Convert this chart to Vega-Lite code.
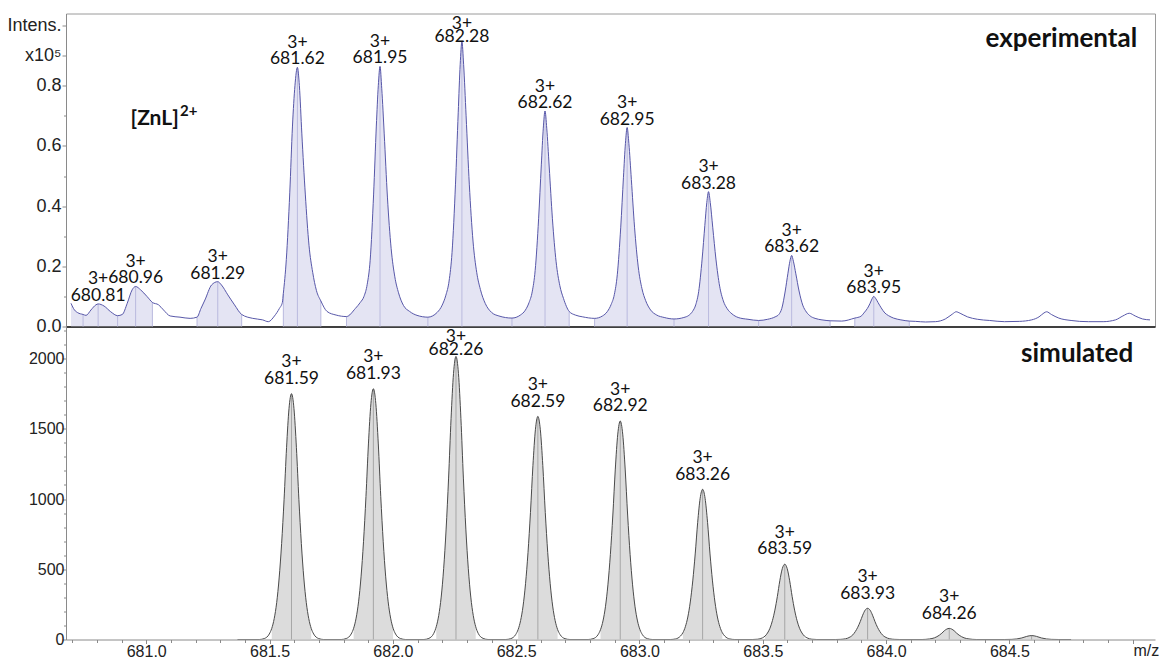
{
  "$schema": "https://vega.github.io/schema/vega-lite/v6.json",
  "background": "white",
  "padding": {"left": 6, "top": 12.5, "right": 0, "bottom": 0},
  "bounds": "flush",
  "spacing": 0,
  "config": {
    "view": {"stroke": null},
    "axis": {"labelFont": "Liberation Sans", "labelColor": "#222222", "domainColor": "#8a8a8a", "tickColor": "#8a8a8a", "grid": false, "titleFont": "Liberation Sans", "zindex": 1}
  },
  "datasets": {
    "exp": [
      {"m": 680.695, "v": 0.077, "r": "a"},
      {"m": 680.709, "v": 0.055, "r": "a"},
      {"m": 680.722, "v": 0.046, "r": "a"},
      {"m": 680.744, "v": 0.040, "r": "a", "t": 1},
      {"m": 680.744, "v": 0.040, "r": "b", "d": 1},
      {"m": 680.756, "v": 0.037, "r": "b"},
      {"m": 680.776, "v": 0.055, "r": "b"},
      {"m": 680.796, "v": 0.072, "r": "b"},
      {"m": 680.805, "v": 0.075, "r": "b", "t": 1},
      {"m": 680.829, "v": 0.068, "r": "b"},
      {"m": 680.856, "v": 0.049, "r": "b"},
      {"m": 680.884, "v": 0.036, "r": "b", "t": 1},
      {"m": 680.884, "v": 0.036, "r": "c", "d": 1},
      {"m": 680.903, "v": 0.040, "r": "c"},
      {"m": 680.923, "v": 0.077, "r": "c"},
      {"m": 680.943, "v": 0.122, "r": "c"},
      {"m": 680.957, "v": 0.133, "r": "c", "t": 1},
      {"m": 680.977, "v": 0.122, "r": "c"},
      {"m": 681.004, "v": 0.099, "r": "c"},
      {"m": 681.025, "v": 0.080, "r": "c", "t": 1},
      {"m": 681.050, "v": 0.072},
      {"m": 681.070, "v": 0.055},
      {"m": 681.097, "v": 0.035},
      {"m": 681.137, "v": 0.031},
      {"m": 681.178, "v": 0.027},
      {"m": 681.206, "v": 0.031, "r": "e", "t": 1},
      {"m": 681.222, "v": 0.060, "r": "e"},
      {"m": 681.238, "v": 0.088, "r": "e"},
      {"m": 681.265, "v": 0.138, "r": "e"},
      {"m": 681.290, "v": 0.149, "r": "e", "t": 1},
      {"m": 681.305, "v": 0.138, "r": "e"},
      {"m": 681.331, "v": 0.105, "r": "e"},
      {"m": 681.358, "v": 0.072, "r": "e"},
      {"m": 681.387, "v": 0.040, "r": "e", "t": 1},
      {"m": 681.432, "v": 0.027},
      {"m": 681.472, "v": 0.022},
      {"m": 681.495, "v": 0.016},
      {"m": 681.520, "v": 0.035},
      {"m": 681.540, "v": 0.060},
      {"m": 681.552, "v": 0.080},
      {"m": 681.556, "v": 0.110, "r": "f", "t": 1},
      {"m": 681.568, "v": 0.222, "r": "f"},
      {"m": 681.582, "v": 0.444, "r": "f"},
      {"m": 681.593, "v": 0.666, "r": "f"},
      {"m": 681.603, "v": 0.800, "r": "f"},
      {"m": 681.613, "v": 0.861, "r": "f", "t": 1},
      {"m": 681.621, "v": 0.800, "r": "f"},
      {"m": 681.631, "v": 0.640, "r": "f"},
      {"m": 681.645, "v": 0.440, "r": "f"},
      {"m": 681.660, "v": 0.270, "r": "f"},
      {"m": 681.675, "v": 0.180, "r": "f"},
      {"m": 681.690, "v": 0.120, "r": "f"},
      {"m": 681.708, "v": 0.085, "r": "f", "t": 1},
      {"m": 681.733, "v": 0.050},
      {"m": 681.770, "v": 0.038},
      {"m": 681.812, "v": 0.033, "r": "g", "t": 1},
      {"m": 681.848, "v": 0.060, "r": "g"},
      {"m": 681.868, "v": 0.080, "r": "g"},
      {"m": 681.883, "v": 0.100, "r": "g"},
      {"m": 681.896, "v": 0.140, "r": "g"},
      {"m": 681.908, "v": 0.220, "r": "g"},
      {"m": 681.922, "v": 0.440, "r": "g"},
      {"m": 681.933, "v": 0.666, "r": "g"},
      {"m": 681.941, "v": 0.800, "r": "g"},
      {"m": 681.948, "v": 0.864, "r": "g", "t": 1},
      {"m": 681.955, "v": 0.790, "r": "g"},
      {"m": 681.965, "v": 0.640, "r": "g"},
      {"m": 681.978, "v": 0.430, "r": "g"},
      {"m": 681.993, "v": 0.260, "r": "g"},
      {"m": 682.008, "v": 0.165, "r": "g"},
      {"m": 682.023, "v": 0.112, "r": "g"},
      {"m": 682.043, "v": 0.070, "r": "g"},
      {"m": 682.068, "v": 0.050, "r": "g"},
      {"m": 682.098, "v": 0.037, "r": "g"},
      {"m": 682.142, "v": 0.031, "r": "g", "t": 1},
      {"m": 682.142, "v": 0.031, "r": "h", "d": 1},
      {"m": 682.180, "v": 0.047, "r": "h"},
      {"m": 682.200, "v": 0.071, "r": "h"},
      {"m": 682.215, "v": 0.104, "r": "h"},
      {"m": 682.228, "v": 0.151, "r": "h"},
      {"m": 682.240, "v": 0.246, "r": "h"},
      {"m": 682.254, "v": 0.473, "r": "h"},
      {"m": 682.265, "v": 0.710, "r": "h"},
      {"m": 682.273, "v": 0.870, "r": "h"},
      {"m": 682.280, "v": 0.946, "r": "h", "t": 1},
      {"m": 682.287, "v": 0.870, "r": "h"},
      {"m": 682.297, "v": 0.700, "r": "h"},
      {"m": 682.310, "v": 0.473, "r": "h"},
      {"m": 682.325, "v": 0.284, "r": "h"},
      {"m": 682.340, "v": 0.180, "r": "h"},
      {"m": 682.355, "v": 0.123, "r": "h"},
      {"m": 682.375, "v": 0.076, "r": "h"},
      {"m": 682.400, "v": 0.047, "r": "h"},
      {"m": 682.430, "v": 0.035, "r": "h"},
      {"m": 682.483, "v": 0.028, "r": "h", "t": 1},
      {"m": 682.483, "v": 0.028, "r": "i", "d": 1},
      {"m": 682.517, "v": 0.038, "r": "i"},
      {"m": 682.537, "v": 0.054, "r": "i"},
      {"m": 682.552, "v": 0.079, "r": "i"},
      {"m": 682.565, "v": 0.115, "r": "i"},
      {"m": 682.577, "v": 0.186, "r": "i"},
      {"m": 682.591, "v": 0.358, "r": "i"},
      {"m": 682.602, "v": 0.537, "r": "i"},
      {"m": 682.610, "v": 0.659, "r": "i"},
      {"m": 682.617, "v": 0.716, "r": "i", "t": 1},
      {"m": 682.624, "v": 0.659, "r": "i"},
      {"m": 682.634, "v": 0.530, "r": "i"},
      {"m": 682.647, "v": 0.358, "r": "i"},
      {"m": 682.662, "v": 0.215, "r": "i"},
      {"m": 682.677, "v": 0.136, "r": "i"},
      {"m": 682.692, "v": 0.093, "r": "i"},
      {"m": 682.715, "v": 0.050, "r": "i", "t": 1},
      {"m": 682.740, "v": 0.038},
      {"m": 682.770, "v": 0.032},
      {"m": 682.818, "v": 0.027, "r": "j", "t": 1},
      {"m": 682.850, "v": 0.035, "r": "j"},
      {"m": 682.870, "v": 0.050, "r": "j"},
      {"m": 682.885, "v": 0.073, "r": "j"},
      {"m": 682.898, "v": 0.106, "r": "j"},
      {"m": 682.910, "v": 0.172, "r": "j"},
      {"m": 682.924, "v": 0.330, "r": "j"},
      {"m": 682.935, "v": 0.496, "r": "j"},
      {"m": 682.943, "v": 0.608, "r": "j"},
      {"m": 682.950, "v": 0.661, "r": "j", "t": 1},
      {"m": 682.957, "v": 0.608, "r": "j"},
      {"m": 682.967, "v": 0.489, "r": "j"},
      {"m": 682.980, "v": 0.330, "r": "j"},
      {"m": 682.995, "v": 0.198, "r": "j"},
      {"m": 683.010, "v": 0.126, "r": "j"},
      {"m": 683.025, "v": 0.086, "r": "j"},
      {"m": 683.045, "v": 0.055, "r": "j"},
      {"m": 683.070, "v": 0.038, "r": "j"},
      {"m": 683.100, "v": 0.030, "r": "j"},
      {"m": 683.140, "v": 0.025, "r": "j", "t": 1},
      {"m": 683.140, "v": 0.025, "r": "k", "d": 1},
      {"m": 683.180, "v": 0.030, "r": "k"},
      {"m": 683.200, "v": 0.037, "r": "k"},
      {"m": 683.215, "v": 0.050, "r": "k"},
      {"m": 683.228, "v": 0.072, "r": "k"},
      {"m": 683.240, "v": 0.116, "r": "k"},
      {"m": 683.254, "v": 0.224, "r": "k"},
      {"m": 683.265, "v": 0.336, "r": "k"},
      {"m": 683.273, "v": 0.412, "r": "k"},
      {"m": 683.280, "v": 0.448, "r": "k", "t": 1},
      {"m": 683.287, "v": 0.412, "r": "k"},
      {"m": 683.297, "v": 0.330, "r": "k"},
      {"m": 683.310, "v": 0.224, "r": "k"},
      {"m": 683.325, "v": 0.134, "r": "k"},
      {"m": 683.340, "v": 0.085, "r": "k"},
      {"m": 683.355, "v": 0.060, "r": "k"},
      {"m": 683.375, "v": 0.042, "r": "k"},
      {"m": 683.400, "v": 0.030, "r": "k"},
      {"m": 683.440, "v": 0.024, "r": "k"},
      {"m": 683.483, "v": 0.020, "r": "k", "t": 1},
      {"m": 683.483, "v": 0.020, "r": "l", "d": 1},
      {"m": 683.520, "v": 0.024, "r": "l"},
      {"m": 683.550, "v": 0.032, "r": "l"},
      {"m": 683.565, "v": 0.040, "r": "l"},
      {"m": 683.577, "v": 0.060, "r": "l"},
      {"m": 683.591, "v": 0.118, "r": "l"},
      {"m": 683.602, "v": 0.177, "r": "l"},
      {"m": 683.610, "v": 0.217, "r": "l"},
      {"m": 683.617, "v": 0.236, "r": "l", "t": 1},
      {"m": 683.624, "v": 0.217, "r": "l"},
      {"m": 683.634, "v": 0.175, "r": "l"},
      {"m": 683.647, "v": 0.118, "r": "l"},
      {"m": 683.662, "v": 0.071, "r": "l"},
      {"m": 683.677, "v": 0.048, "r": "l"},
      {"m": 683.692, "v": 0.035, "r": "l"},
      {"m": 683.712, "v": 0.027, "r": "l"},
      {"m": 683.740, "v": 0.022, "r": "l"},
      {"m": 683.773, "v": 0.019, "r": "l", "t": 1},
      {"m": 683.820, "v": 0.018},
      {"m": 683.873, "v": 0.028, "r": "n", "t": 1},
      {"m": 683.898, "v": 0.034, "r": "n"},
      {"m": 683.910, "v": 0.045, "r": "n"},
      {"m": 683.924, "v": 0.060, "r": "n"},
      {"m": 683.935, "v": 0.077, "r": "n"},
      {"m": 683.943, "v": 0.092, "r": "n"},
      {"m": 683.950, "v": 0.100, "r": "n", "t": 1},
      {"m": 683.957, "v": 0.094, "r": "n"},
      {"m": 683.967, "v": 0.080, "r": "n"},
      {"m": 683.980, "v": 0.062, "r": "n"},
      {"m": 683.995, "v": 0.045, "r": "n"},
      {"m": 684.010, "v": 0.036, "r": "n"},
      {"m": 684.030, "v": 0.028, "r": "n"},
      {"m": 684.060, "v": 0.022, "r": "n"},
      {"m": 684.094, "v": 0.018, "r": "n", "t": 1},
      {"m": 684.120, "v": 0.017},
      {"m": 684.160, "v": 0.015},
      {"m": 684.200, "v": 0.016},
      {"m": 684.240, "v": 0.025},
      {"m": 684.270, "v": 0.042},
      {"m": 684.284, "v": 0.049},
      {"m": 684.300, "v": 0.044},
      {"m": 684.330, "v": 0.032},
      {"m": 684.370, "v": 0.024},
      {"m": 684.420, "v": 0.020},
      {"m": 684.480, "v": 0.016},
      {"m": 684.540, "v": 0.017},
      {"m": 684.590, "v": 0.022},
      {"m": 684.620, "v": 0.032},
      {"m": 684.640, "v": 0.045},
      {"m": 684.651, "v": 0.049},
      {"m": 684.670, "v": 0.040},
      {"m": 684.700, "v": 0.028},
      {"m": 684.750, "v": 0.020},
      {"m": 684.820, "v": 0.016},
      {"m": 684.880, "v": 0.016},
      {"m": 684.930, "v": 0.022},
      {"m": 684.960, "v": 0.035},
      {"m": 684.986, "v": 0.044},
      {"m": 685.010, "v": 0.035},
      {"m": 685.040, "v": 0.025},
      {"m": 685.070, "v": 0.022}
    ],
    "expLab": [
      {"m": 680.805, "v": 0.075, "lab": "3+\u00a0\u00a0\u00a0\n680.81"},
      {"m": 680.957, "v": 0.133, "lab": "3+\n680.96"},
      {"m": 681.290, "v": 0.149, "lab": "3+\n681.29"},
      {"m": 681.613, "v": 0.861, "lab": "3+\n681.62"},
      {"m": 681.948, "v": 0.864, "lab": "3+\n681.95"},
      {"m": 682.617, "v": 0.716, "lab": "3+\n682.62"},
      {"m": 682.950, "v": 0.661, "lab": "3+\n682.95"},
      {"m": 683.280, "v": 0.448, "lab": "3+\n683.28"},
      {"m": 683.617, "v": 0.236, "lab": "3+\n683.62"},
      {"m": 683.950, "v": 0.100, "lab": "3+\n683.95"}
    ],
    "expLabTight": [
      {"m": 682.280, "v": 0.946, "lab": "3+\n682.28"}
    ],
    "expNotes": [
      {"m": 685.018, "v": 0.928, "txt": "experimental", "kind": "title"},
      {"m": 680.9365, "v": 0.668, "txt": "[ZnL]", "kind": "ion"},
      {"m": 681.137, "v": 0.698, "txt": "2+", "kind": "charge"}
    ],
    "simNotes": [
      {"m": 685.002, "v": 1972, "txt": "simulated", "kind": "title"}
    ],
    "sim": [
      {"m": 681.370, "v": 0},
      {"m": 681.459, "v": 0},
      {"m": 681.479, "v": 7},
      {"m": 681.499, "v": 39},
      {"m": 681.509, "v": 79, "r": "A"},
      {"m": 681.519, "v": 149, "r": "A"},
      {"m": 681.529, "v": 263, "r": "A"},
      {"m": 681.539, "v": 438, "r": "A"},
      {"m": 681.549, "v": 683, "r": "A"},
      {"m": 681.559, "v": 998, "r": "A"},
      {"m": 681.569, "v": 1365, "r": "A"},
      {"m": 681.579, "v": 1645, "r": "A"},
      {"m": 681.589, "v": 1750, "r": "A", "t": 1},
      {"m": 681.599, "v": 1645, "r": "A"},
      {"m": 681.609, "v": 1365, "r": "A"},
      {"m": 681.619, "v": 998, "r": "A"},
      {"m": 681.629, "v": 683, "r": "A"},
      {"m": 681.639, "v": 438, "r": "A"},
      {"m": 681.649, "v": 263, "r": "A"},
      {"m": 681.659, "v": 149, "r": "A"},
      {"m": 681.669, "v": 79, "r": "A"},
      {"m": 681.679, "v": 39},
      {"m": 681.699, "v": 7},
      {"m": 681.719, "v": 0},
      {"m": 681.791, "v": 0},
      {"m": 681.811, "v": 7},
      {"m": 681.831, "v": 39},
      {"m": 681.841, "v": 80, "r": "B"},
      {"m": 681.851, "v": 152, "r": "B"},
      {"m": 681.861, "v": 268, "r": "B"},
      {"m": 681.871, "v": 446, "r": "B"},
      {"m": 681.881, "v": 696, "r": "B"},
      {"m": 681.891, "v": 1017, "r": "B"},
      {"m": 681.901, "v": 1392, "r": "B"},
      {"m": 681.911, "v": 1678, "r": "B"},
      {"m": 681.921, "v": 1785, "r": "B", "t": 1},
      {"m": 681.931, "v": 1678, "r": "B"},
      {"m": 681.941, "v": 1392, "r": "B"},
      {"m": 681.951, "v": 1017, "r": "B"},
      {"m": 681.961, "v": 696, "r": "B"},
      {"m": 681.971, "v": 446, "r": "B"},
      {"m": 681.981, "v": 268, "r": "B"},
      {"m": 681.991, "v": 152, "r": "B"},
      {"m": 682.001, "v": 80, "r": "B"},
      {"m": 682.011, "v": 39},
      {"m": 682.031, "v": 7},
      {"m": 682.051, "v": 0},
      {"m": 682.126, "v": 0},
      {"m": 682.146, "v": 8},
      {"m": 682.166, "v": 44},
      {"m": 682.176, "v": 91, "r": "C"},
      {"m": 682.186, "v": 171, "r": "C"},
      {"m": 682.196, "v": 302, "r": "C"},
      {"m": 682.206, "v": 504, "r": "C"},
      {"m": 682.216, "v": 786, "r": "C"},
      {"m": 682.226, "v": 1149, "r": "C"},
      {"m": 682.236, "v": 1572, "r": "C"},
      {"m": 682.246, "v": 1894, "r": "C"},
      {"m": 682.256, "v": 2015, "r": "C", "t": 1},
      {"m": 682.266, "v": 1894, "r": "C"},
      {"m": 682.276, "v": 1572, "r": "C"},
      {"m": 682.286, "v": 1149, "r": "C"},
      {"m": 682.296, "v": 786, "r": "C"},
      {"m": 682.306, "v": 504, "r": "C"},
      {"m": 682.316, "v": 302, "r": "C"},
      {"m": 682.326, "v": 171, "r": "C"},
      {"m": 682.336, "v": 91, "r": "C"},
      {"m": 682.346, "v": 44},
      {"m": 682.366, "v": 8},
      {"m": 682.386, "v": 0},
      {"m": 682.458, "v": 0},
      {"m": 682.478, "v": 6},
      {"m": 682.498, "v": 35},
      {"m": 682.508, "v": 71, "r": "D"},
      {"m": 682.518, "v": 135, "r": "D"},
      {"m": 682.528, "v": 238, "r": "D"},
      {"m": 682.538, "v": 397, "r": "D"},
      {"m": 682.548, "v": 619, "r": "D"},
      {"m": 682.558, "v": 905, "r": "D"},
      {"m": 682.568, "v": 1239, "r": "D"},
      {"m": 682.578, "v": 1493, "r": "D"},
      {"m": 682.588, "v": 1588, "r": "D", "t": 1},
      {"m": 682.598, "v": 1493, "r": "D"},
      {"m": 682.608, "v": 1239, "r": "D"},
      {"m": 682.618, "v": 905, "r": "D"},
      {"m": 682.628, "v": 619, "r": "D"},
      {"m": 682.638, "v": 397, "r": "D"},
      {"m": 682.648, "v": 238, "r": "D"},
      {"m": 682.658, "v": 135, "r": "D"},
      {"m": 682.668, "v": 71, "r": "D"},
      {"m": 682.678, "v": 35},
      {"m": 682.698, "v": 6},
      {"m": 682.718, "v": 0},
      {"m": 682.792, "v": 0},
      {"m": 682.812, "v": 6},
      {"m": 682.832, "v": 34},
      {"m": 682.842, "v": 70, "r": "E"},
      {"m": 682.852, "v": 132, "r": "E"},
      {"m": 682.862, "v": 233, "r": "E"},
      {"m": 682.872, "v": 389, "r": "E"},
      {"m": 682.882, "v": 606, "r": "E"},
      {"m": 682.892, "v": 886, "r": "E"},
      {"m": 682.902, "v": 1213, "r": "E"},
      {"m": 682.912, "v": 1462, "r": "E"},
      {"m": 682.922, "v": 1555, "r": "E", "t": 1},
      {"m": 682.932, "v": 1462, "r": "E"},
      {"m": 682.942, "v": 1213, "r": "E"},
      {"m": 682.952, "v": 886, "r": "E"},
      {"m": 682.962, "v": 606, "r": "E"},
      {"m": 682.972, "v": 389, "r": "E"},
      {"m": 682.982, "v": 233, "r": "E"},
      {"m": 682.992, "v": 132, "r": "E"},
      {"m": 683.002, "v": 70, "r": "E"},
      {"m": 683.012, "v": 34},
      {"m": 683.032, "v": 6},
      {"m": 683.052, "v": 0},
      {"m": 683.126, "v": 0},
      {"m": 683.146, "v": 4},
      {"m": 683.166, "v": 24},
      {"m": 683.176, "v": 48, "r": "F"},
      {"m": 683.186, "v": 91, "r": "F"},
      {"m": 683.196, "v": 160, "r": "F"},
      {"m": 683.206, "v": 267, "r": "F"},
      {"m": 683.216, "v": 417, "r": "F"},
      {"m": 683.226, "v": 609, "r": "F"},
      {"m": 683.236, "v": 834, "r": "F"},
      {"m": 683.246, "v": 1005, "r": "F"},
      {"m": 683.256, "v": 1069, "r": "F", "t": 1},
      {"m": 683.266, "v": 1005, "r": "F"},
      {"m": 683.276, "v": 834, "r": "F"},
      {"m": 683.286, "v": 609, "r": "F"},
      {"m": 683.296, "v": 417, "r": "F"},
      {"m": 683.306, "v": 267, "r": "F"},
      {"m": 683.316, "v": 160, "r": "F"},
      {"m": 683.326, "v": 91, "r": "F"},
      {"m": 683.336, "v": 48, "r": "F"},
      {"m": 683.346, "v": 24},
      {"m": 683.366, "v": 4},
      {"m": 683.386, "v": 0},
      {"m": 683.459, "v": 0},
      {"m": 683.479, "v": 2},
      {"m": 683.499, "v": 12},
      {"m": 683.509, "v": 24, "r": "G"},
      {"m": 683.519, "v": 46, "r": "G"},
      {"m": 683.529, "v": 80, "r": "G"},
      {"m": 683.539, "v": 134, "r": "G"},
      {"m": 683.549, "v": 209, "r": "G"},
      {"m": 683.559, "v": 306, "r": "G"},
      {"m": 683.569, "v": 418, "r": "G"},
      {"m": 683.579, "v": 504, "r": "G"},
      {"m": 683.589, "v": 536, "r": "G", "t": 1},
      {"m": 683.599, "v": 504, "r": "G"},
      {"m": 683.609, "v": 418, "r": "G"},
      {"m": 683.619, "v": 306, "r": "G"},
      {"m": 683.629, "v": 209, "r": "G"},
      {"m": 683.639, "v": 134, "r": "G"},
      {"m": 683.649, "v": 80, "r": "G"},
      {"m": 683.659, "v": 46, "r": "G"},
      {"m": 683.669, "v": 24, "r": "G"},
      {"m": 683.679, "v": 12},
      {"m": 683.699, "v": 2},
      {"m": 683.719, "v": 0},
      {"m": 683.795, "v": 0},
      {"m": 683.815, "v": 1},
      {"m": 683.835, "v": 5},
      {"m": 683.845, "v": 10, "r": "H"},
      {"m": 683.855, "v": 19, "r": "H"},
      {"m": 683.865, "v": 33, "r": "H"},
      {"m": 683.875, "v": 56, "r": "H"},
      {"m": 683.885, "v": 87, "r": "H"},
      {"m": 683.895, "v": 127, "r": "H"},
      {"m": 683.905, "v": 173, "r": "H"},
      {"m": 683.915, "v": 209, "r": "H"},
      {"m": 683.925, "v": 222, "r": "H", "t": 1},
      {"m": 683.935, "v": 209, "r": "H"},
      {"m": 683.945, "v": 173, "r": "H"},
      {"m": 683.955, "v": 127, "r": "H"},
      {"m": 683.965, "v": 87, "r": "H"},
      {"m": 683.975, "v": 56, "r": "H"},
      {"m": 683.985, "v": 33, "r": "H"},
      {"m": 683.995, "v": 19, "r": "H"},
      {"m": 684.005, "v": 10, "r": "H"},
      {"m": 684.015, "v": 5},
      {"m": 684.035, "v": 1},
      {"m": 684.055, "v": 0},
      {"m": 684.146, "v": 0},
      {"m": 684.176, "v": 4, "r": "I"},
      {"m": 684.186, "v": 7, "r": "I"},
      {"m": 684.196, "v": 12, "r": "I"},
      {"m": 684.206, "v": 20, "r": "I"},
      {"m": 684.216, "v": 31, "r": "I"},
      {"m": 684.226, "v": 45, "r": "I"},
      {"m": 684.236, "v": 62, "r": "I"},
      {"m": 684.246, "v": 74, "r": "I"},
      {"m": 684.256, "v": 79, "r": "I", "t": 1},
      {"m": 684.266, "v": 74, "r": "I"},
      {"m": 684.276, "v": 62, "r": "I"},
      {"m": 684.286, "v": 45, "r": "I"},
      {"m": 684.296, "v": 31, "r": "I"},
      {"m": 684.306, "v": 20, "r": "I"},
      {"m": 684.316, "v": 12, "r": "I"},
      {"m": 684.326, "v": 7, "r": "I"},
      {"m": 684.336, "v": 4, "r": "I"},
      {"m": 684.366, "v": 0},
      {"m": 684.480, "v": 0},
      {"m": 684.510, "v": 1, "r": "J"},
      {"m": 684.530, "v": 4, "r": "J"},
      {"m": 684.550, "v": 11, "r": "J"},
      {"m": 684.570, "v": 22, "r": "J"},
      {"m": 684.590, "v": 28, "r": "J", "t": 1},
      {"m": 684.610, "v": 22, "r": "J"},
      {"m": 684.630, "v": 11, "r": "J"},
      {"m": 684.650, "v": 4, "r": "J"},
      {"m": 684.670, "v": 1, "r": "J"},
      {"m": 684.700, "v": 0},
      {"m": 684.750, "v": 0}
    ],
    "simLab": [
      {"m": 681.589, "v": 1750, "lab": "3+\n681.59"},
      {"m": 681.921, "v": 1785, "lab": "3+\n681.93"},
      {"m": 682.588, "v": 1588, "lab": "3+\n682.59"},
      {"m": 682.922, "v": 1555, "lab": "3+\n682.92"},
      {"m": 683.256, "v": 1069, "lab": "3+\n683.26"},
      {"m": 683.589, "v": 536, "lab": "3+\n683.59"},
      {"m": 683.925, "v": 222, "lab": "3+\n683.93"},
      {"m": 684.256, "v": 79, "lab": "3+\n684.26"}
    ],
    "simLabTight": [
      {"m": 682.256, "v": 2015, "lab": "3+\n682.26"}
    ]
  },
  "vconcat": [
    {
      "width": 1089,
      "height": 313,
      "view": {"stroke": "#9a9a9a", "strokeWidth": 1},
      "encoding": {
        "x": {"field": "m", "type": "quantitative", "scale": {"domain": [680.695, 685.07], "nice": false, "zero": false},
          "axis": {"orient": "bottom", "domain": true, "domainColor": "#111111", "domainWidth": 1.6, "ticks": false, "labels": false, "title": null}},
        "y": {"field": "v", "type": "quantitative", "stack": null, "scale": {"domain": [0, 1.04], "nice": false},
          "axis": {"title": null, "values": [0, 0.1, 0.2, 0.3, 0.4, 0.5, 0.6, 0.7, 0.8, 0.9, 1.0],
            "labelExpr": "datum.value > 0.95 ? 'Intens.' : (datum.value > 0.85 ? 'x10⁵' : (round(datum.value*10) % 2 == 0 ? format(datum.value, '.1f') : ''))",
            "tickSize": {"condition": {"test": "round(datum.value*10) % 2 == 1 && round(datum.value*10) != 9", "value": 2.5}, "value": 4},
            "labelPadding": 1, "labelFontSize": 18, "labelOverlap": false, "labelFlush": false}}
      },
      "layer": [
        {
          "data": {"name": "exp"},
          "transform": [{"filter": "isValid(datum.r)"}],
          "mark": {"type": "area", "color": "#e4e4f3", "interpolate": "monotone", "clip": true},
          "encoding": {"detail": {"field": "r", "type": "nominal"}}
        },
        {
          "data": {"name": "exp"},
          "transform": [{"filter": "datum.t == 1"}],
          "mark": {"type": "bar", "color": "#babade", "width": 1}
        },
        {
          "data": {"name": "exp"},
          "transform": [{"filter": "datum.d != 1"}],
          "mark": {"type": "line", "color": "#5757a8", "strokeWidth": 1, "interpolate": "monotone", "clip": true}
        },
        {
          "data": {"name": "expLab"},
          "mark": {"type": "text", "font": "Lato", "fontSize": 17.5, "lineHeight": 16.5, "baseline": "bottom", "align": "center", "lineBreak": "\n", "color": "#111111", "dy": -15.5},
          "encoding": {"text": {"field": "lab", "type": "nominal"}}
        },
        {
          "data": {"name": "expLabTight"},
          "mark": {"type": "text", "font": "Lato", "fontSize": 17.5, "lineHeight": 13.3, "baseline": "bottom", "align": "center", "lineBreak": "\n", "color": "#111111", "dy": -8.8},
          "encoding": {"text": {"field": "lab", "type": "nominal"}}
        },
        {
          "data": {"name": "expNotes"},
          "transform": [{"filter": "datum.kind == 'title'"}],
          "mark": {"type": "text", "font": "Lato", "fontSize": 26, "fontWeight": "bold", "align": "right", "baseline": "alphabetic", "color": "#111111"},
          "encoding": {"text": {"field": "txt", "type": "nominal"}}
        },
        {
          "data": {"name": "expNotes"},
          "transform": [{"filter": "datum.kind == 'ion'"}],
          "mark": {"type": "text", "font": "Lato", "fontSize": 21, "fontWeight": "bold", "align": "left", "baseline": "alphabetic", "color": "#111111"},
          "encoding": {"text": {"field": "txt", "type": "nominal"}}
        },
        {
          "data": {"name": "expNotes"},
          "transform": [{"filter": "datum.kind == 'charge'"}],
          "mark": {"type": "text", "font": "Lato", "fontSize": 15, "fontWeight": "bold", "align": "left", "baseline": "alphabetic", "color": "#111111"},
          "encoding": {"text": {"field": "txt", "type": "nominal"}}
        }
      ]
    },
    {
      "width": 1089,
      "height": 313,
      "encoding": {
        "x": {"field": "m", "type": "quantitative", "scale": {"domain": [680.695, 685.07], "nice": false, "zero": false},
          "axis": {"title": "m/z", "values": [680.7, 680.8, 680.9, 681.0, 681.1, 681.2, 681.3, 681.4, 681.5, 681.6, 681.7, 681.8, 681.9, 682.0, 682.1, 682.2, 682.3, 682.4, 682.5, 682.6, 682.7, 682.8, 682.9, 683.0, 683.1, 683.2, 683.3, 683.4, 683.5, 683.6, 683.7, 683.8, 683.9, 684.0, 684.1, 684.2, 684.3, 684.4, 684.5, 684.6, 684.7, 684.8, 684.9, 685.0],
            "labelExpr": "(round(datum.value*10) % 5 == 0 && datum.value < 684.95) ? format(datum.value, '.1f') : ''",
            "tickSize": {"condition": {"test": "round(datum.value*10) % 5 != 0", "value": 3}, "value": 4},
            "labelPadding": -0.5, "labelFontSize": 16, "labelOverlap": false, "labelFlush": false,
            "titleX": 1067, "titleY": 15.5, "titleAlign": "left", "titleBaseline": "alphabetic", "titleFontWeight": "normal", "titleFontSize": 16, "titleColor": "#222222"}},
        "y": {"field": "v", "type": "quantitative", "stack": null, "scale": {"domain": [0, 2228], "nice": false},
          "axis": {"title": null, "values": [0, 100, 200, 300, 400, 500, 600, 700, 800, 900, 1000, 1100, 1200, 1300, 1400, 1500, 1600, 1700, 1800, 1900, 2000, 2100, 2200],
            "labelExpr": "datum.value % 500 == 0 ? '' + datum.value : ''",
            "tickSize": {"condition": {"test": "datum.value % 500 != 0", "value": 2.5}, "value": 4},
            "labelPadding": -2, "labelFontSize": 16, "labelOverlap": false, "labelFlush": false}}
      },
      "layer": [
        {
          "data": {"name": "sim"},
          "transform": [{"filter": "isValid(datum.r)"}],
          "mark": {"type": "area", "color": "#dcdcdc", "interpolate": "monotone", "clip": true},
          "encoding": {"detail": {"field": "r", "type": "nominal"}}
        },
        {
          "data": {"name": "sim"},
          "transform": [{"filter": "datum.t == 1"}],
          "mark": {"type": "bar", "color": "#a6a6a6", "width": 1}
        },
        {
          "data": {"name": "sim"},
          "mark": {"type": "line", "color": "#4a4a4a", "strokeWidth": 1, "interpolate": "monotone", "clip": true}
        },
        {
          "data": {"name": "simLab"},
          "mark": {"type": "text", "font": "Lato", "fontSize": 17.5, "lineHeight": 16.5, "baseline": "bottom", "align": "center", "lineBreak": "\n", "color": "#111111", "dy": -22.3},
          "encoding": {"text": {"field": "lab", "type": "nominal"}}
        },
        {
          "data": {"name": "simLabTight"},
          "mark": {"type": "text", "font": "Lato", "fontSize": 17.5, "lineHeight": 13, "baseline": "bottom", "align": "center", "lineBreak": "\n", "color": "#111111", "dy": -10.2},
          "encoding": {"text": {"field": "lab", "type": "nominal"}}
        },
        {
          "data": {"name": "simNotes"},
          "mark": {"type": "text", "font": "Lato", "fontSize": 26, "fontWeight": "bold", "align": "right", "baseline": "alphabetic", "color": "#111111"},
          "encoding": {"text": {"field": "txt", "type": "nominal"}}
        }
      ]
    }
  ]
}
